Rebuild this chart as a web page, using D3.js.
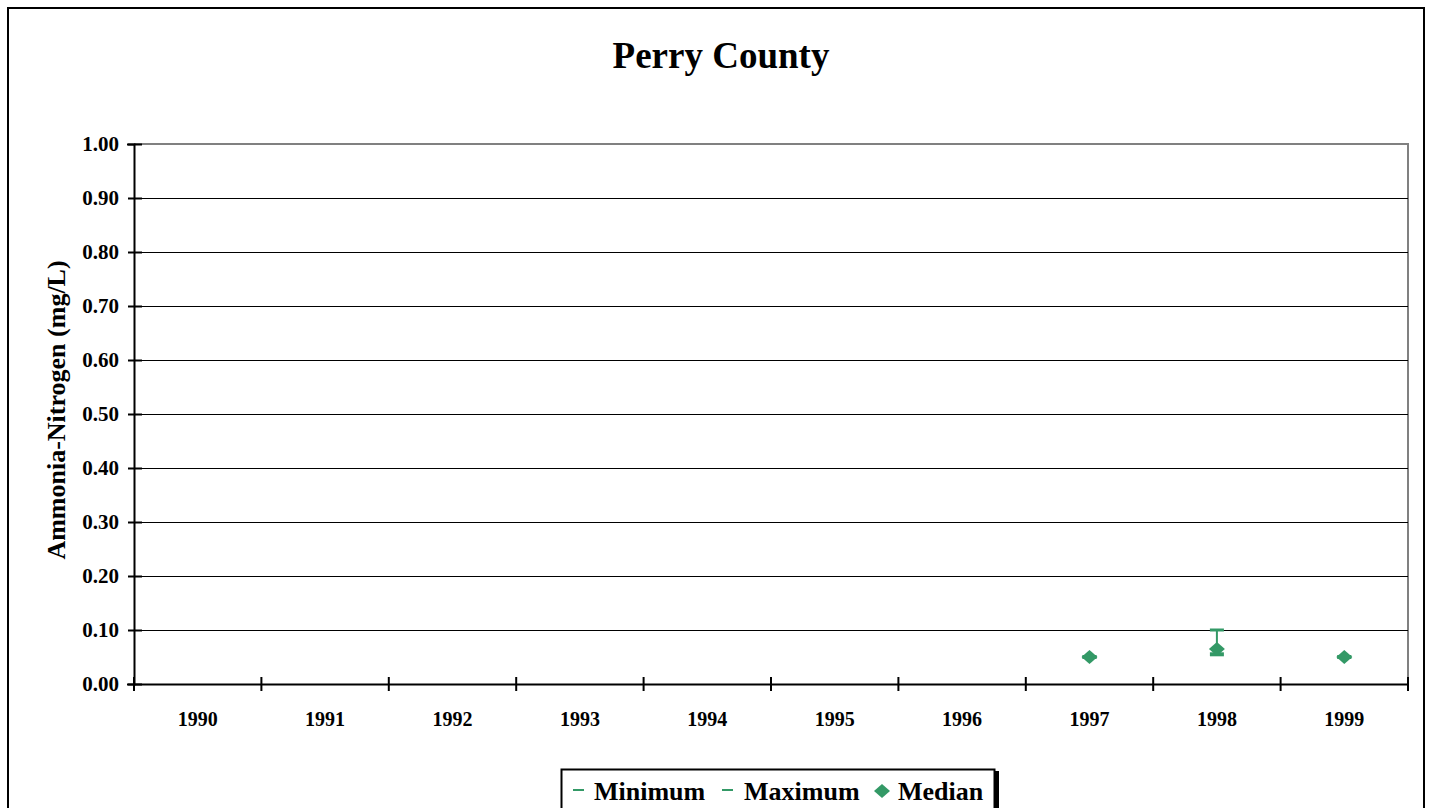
<!DOCTYPE html>
<html><head><meta charset="utf-8">
<script src="https://cdn.jsdelivr.net/npm/d3@7"></script>
<style>body{margin:0;background:#fff;}svg{display:block;font-family:"Liberation Serif","Times New Roman",serif;font-weight:bold;}</style>
</head><body>
<svg id="c" width="1431" height="808"></svg>
<script>
const years = ["1990","1991","1992","1993","1994","1995","1996","1997","1998","1999"];
const minimum = [null,null,null,null,null,null,null,0.05,0.055,0.05];
const maximum = [null,null,null,null,null,null,null,0.05,0.10,0.05];
const median  = [null,null,null,null,null,null,null,0.05,0.065,0.05];
const yTicks = [0,0.1,0.2,0.3,0.4,0.5,0.6,0.7,0.8,0.9,1.0];
const legendLabels = ["Minimum","Maximum","Median"];

const green = "#339966";
const svg = d3.select("#c");
// outer border
svg.append("rect").attr("x",8).attr("y",8).attr("width",1416).attr("height",805)
  .attr("fill","none").attr("stroke","#000").attr("stroke-width",2);

const L=134, R=1408, T=144, B=684;
const x = d3.scaleBand().domain(years).range([L,R]);
const y = d3.scaleLinear().domain([0,1]).range([B,T]);

// plot area border (gray top/right)
svg.append("path").attr("d",`M${L},${T}H${R}V${B}`).attr("fill","none").attr("stroke","#808080").attr("stroke-width",2);

// gridlines
svg.append("g").selectAll("line").data(yTicks.filter(d=>d>0 && d<1)).join("line")
  .attr("x1",L).attr("x2",R).attr("y1",d=>Math.round(y(d))+0.5).attr("y2",d=>Math.round(y(d))+0.5)
  .attr("stroke","#000").attr("stroke-width",1);

// y axis
const yAxis = svg.append("g").attr("transform",`translate(${L},0)`)
  .call(d3.axisLeft(y).tickValues(yTicks).tickFormat(d3.format(".2f")).tickSize(7).tickPadding(8));
yAxis.select(".domain").attr("stroke","#000").attr("stroke-width",2);
yAxis.selectAll(".tick line").attr("stroke","#000").attr("stroke-width",2).attr("x2",-6).attr("x1",8);
yAxis.selectAll(".tick text").attr("font-size",21).attr("font-family","Liberation Serif").attr("font-weight","bold").attr("fill","#000");

// x axis
const xAxis = svg.append("g").attr("transform",`translate(0,${B})`)
  .call(d3.axisBottom(x).tickSize(0).tickPadding(28));
xAxis.select(".domain").attr("stroke","#000").attr("stroke-width",2);
xAxis.selectAll(".tick text").attr("font-size",20).attr("font-family","Liberation Serif").attr("font-weight","bold").attr("fill","#000");
const bounds = years.map(d=>x(d)).concat([R]);
xAxis.append("g").selectAll("line").data(bounds).join("line")
  .attr("x1",d=>d).attr("x2",d=>d).attr("y1",-7).attr("y2",7)
  .attr("stroke","#000").attr("stroke-width",2);

// data
const pts = years.map((yr,i)=>({yr,min:minimum[i],max:maximum[i],med:median[i]})).filter(d=>d.med!=null);
const g = svg.append("g");
const cx = d=>x(d.yr)+x.bandwidth()/2;
g.selectAll("line.hl").data(pts).join("line").attr("class","hl")
  .attr("x1",cx).attr("x2",cx).attr("y1",d=>y(d.max)).attr("y2",d=>y(d.min))
  .attr("stroke",green).attr("stroke-width",2);
g.selectAll("line.mx").data(pts).join("line").attr("class","mx")
  .attr("x1",d=>cx(d)-7).attr("x2",d=>cx(d)+7).attr("y1",d=>y(d.max)).attr("y2",d=>y(d.max))
  .attr("stroke",green).attr("stroke-width",3);
g.selectAll("line.mn").data(pts).join("line").attr("class","mn")
  .attr("x1",d=>cx(d)-7).attr("x2",d=>cx(d)+7).attr("y1",d=>y(d.min)).attr("y2",d=>y(d.min))
  .attr("stroke",green).attr("stroke-width",4);
const diamond = "M0,-7L8,0L0,7L-8,0Z";
g.selectAll("path.md").data(pts).join("path").attr("class","md")
  .attr("d",diamond).attr("transform",d=>`translate(${cx(d)},${y(d.med)})`).attr("fill",green);

// title
svg.append("text").attr("x",721).attr("y",68).attr("text-anchor","middle")
  .attr("font-size",37).text("Perry County");
// y label
svg.append("text").attr("transform","translate(65,410) rotate(-90)").attr("text-anchor","middle")
  .attr("font-size",26).text("Ammonia-Nitrogen (mg/L)");

// legend
const lg = svg.append("g");
lg.append("rect").attr("x",995).attr("y",771).attr("width",4).attr("height",40).attr("fill","#000");
lg.append("rect").attr("x",561.5).attr("y",769.5).attr("width",433).attr("height",45).attr("fill","#fff").attr("stroke","#000").attr("stroke-width",2);
const lx = [573, 722, 873];
const tx = [594, 744, 898];
legendLabels.forEach((lab,i)=>{
  if(i<2){
    lg.append("line").attr("x1",lx[i]).attr("x2",lx[i]+11).attr("y1",790).attr("y2",790).attr("stroke",green).attr("stroke-width",2);
  } else {
    lg.append("path").attr("d",diamond).attr("transform",`translate(${lx[i]+9},791)`).attr("fill",green);
  }
  lg.append("text").attr("x",tx[i]).attr("y",800).attr("font-size",26).text(lab);
});
</script>
</body></html>
